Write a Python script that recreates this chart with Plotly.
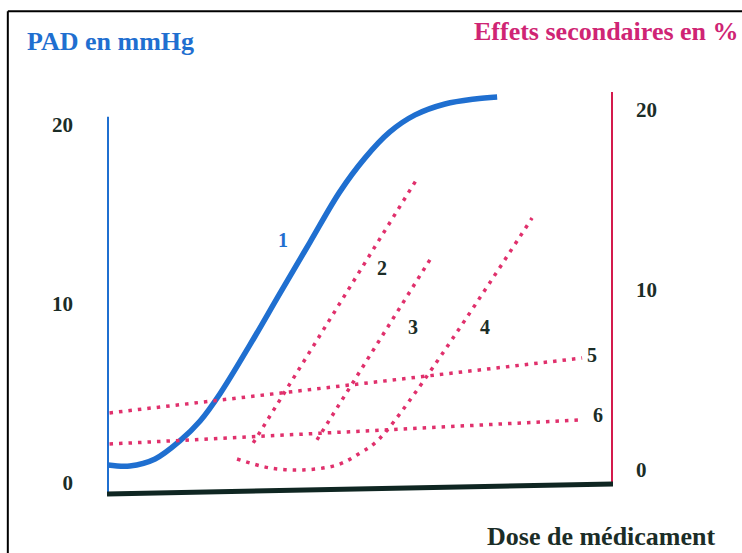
import plotly.graph_objects as go

# courbe 1 : PAD (mmHg) selon la dose
dose_pad = [0.02, 0.45, 0.95, 1.44, 1.84, 2.23, 2.83, 3.42, 4.01, 4.60, 5.10, 5.59, 6.09, 6.68, 7.27, 7.71]
pad = [1.01, 0.95, 1.34, 2.35, 3.46, 4.97, 7.74, 10.61, 13.44, 16.26, 18.16, 19.61, 20.56, 21.17, 21.45, 21.56]

# courbes 2 a 6 : effets secondaires (%)
dose_2 = [2.89, 6.15]
eff_2 = [1.5, 16.28]
dose_3 = [4.15, 6.44]
eff_3 = [1.67, 11.94]
dose_4 = [2.57, 3.22, 3.87, 4.55, 5.0, 5.40, 8.40]
eff_4 = [0.61, 0.11, 0.0, 0.28, 0.94, 1.78, 14.0]
dose_5 = [0.05, 9.39]
eff_5 = [3.17, 6.22]
dose_6 = [0.05, 9.35]
eff_6 = [1.44, 2.78]

left_ticks = [0, 10, 20]
right_ticks = [0, 10, 20]

BLUE = "#1f6fd0"
PINK = "#e0306c"
CRIMSON = "#d41a4c"
DARK = "#1b2d27"
SERIF = "Liberation Serif"

fig = go.Figure()
fig.add_trace(go.Scatter(x=dose_pad, y=pad, mode="lines", line=dict(color=BLUE, width=5.5, shape="spline"),
                         showlegend=False, hoverinfo="skip"))
for xs, ys in [(dose_2, eff_2), (dose_3, eff_3), (dose_4, eff_4), (dose_5, eff_5), (dose_6, eff_6)]:
    fig.add_trace(go.Scatter(x=xs, y=ys, yaxis="y2", mode="lines",
                             line=dict(color=PINK, width=3.5, dash="3.5px,6px", shape="spline"),
                             showlegend=False, hoverinfo="skip"))

# axes dessines a la main (le scan est un peu penche)
fig.add_shape(type="line", xref="x", yref="y", x0=0, x1=0, y0=-0.56, y1=20.45, line=dict(color=BLUE, width=4))
fig.add_shape(type="line", xref="x", yref="y2", x0=10, x1=10, y0=-0.72, y1=21.0, line=dict(color=CRIMSON, width=4))
fig.add_shape(type="line", xref="x", yref="y", x0=0, x1=10, y0=-0.61, y1=-0.06, line=dict(color="#0f2622", width=5))
# cadre
fig.add_shape(type="line", xref="paper", yref="paper", x0=-0.196, x1=1.26, y0=1.178, y1=1.178,
              line=dict(color="black", width=2))
fig.add_shape(type="line", xref="paper", yref="paper", x0=-0.196, x1=-0.196, y0=1.178, y1=-0.14,
              line=dict(color="black", width=2))

lab = dict(family=SERIF, size=20, color=DARK)
fig.add_annotation(x=3.48, y=13.58, yref="y", text="<b>1</b>", showarrow=False,
                   font=dict(family=SERIF, size=20, color=BLUE))
for txt, x, y in [("2", 5.43, 11.22), ("3", 6.05, 7.94), ("4", 7.47, 7.94), ("5", 9.58, 6.39), ("6", 9.70, 3.06)]:
    fig.add_annotation(x=x, y=y, yref="y2", text=f"<b>{txt}</b>", showarrow=False, font=lab)

fig.add_annotation(xref="paper", yref="paper", x=-0.162, y=1.104, xanchor="left", yanchor="middle",
                   text="<b>PAD en mmHg</b>", showarrow=False, font=dict(family=SERIF, size=26, color=BLUE))
fig.add_annotation(xref="paper", yref="paper", x=1.252, y=1.128, xanchor="right", yanchor="middle",
                   text="<b>Effets secondaires en %</b>", showarrow=False,
                   font=dict(family=SERIF, size=26, color="#cf2474"))
fig.add_annotation(xref="paper", yref="paper", x=1.2075, y=-0.089, xanchor="right", yanchor="middle",
                   text="<b>Dose de médicament</b>", showarrow=False, font=dict(family=SERIF, size=26, color=DARK))

fig.update_layout(
    width=742, height=553,
    margin=dict(l=107, r=129, t=85, b=53),
    paper_bgcolor="white", plot_bgcolor="white",
    xaxis=dict(range=[0, 10], showgrid=False, zeroline=False, showline=False, showticklabels=False),
    yaxis=dict(range=[-0.95, 22.23], showgrid=False, zeroline=False, showline=False,
               tickvals=left_ticks, ticktext=[f"<b>{t}</b>" for t in left_ticks],
               tickfont=dict(family=SERIF, size=21, color=DARK), ticklabelstandoff=33),
    yaxis2=dict(range=[-1.67, 21.39], overlaying="y", side="right", showgrid=False, zeroline=False,
                showline=False, tickvals=right_ticks, ticktext=[f"<b>{t}</b>" for t in right_ticks],
                tickfont=dict(family=SERIF, size=21, color=DARK), ticklabelstandoff=22),
)

fig.write_html("out.html", config={"displayModeBar": False},
               post_script="document.body.style.margin='0';")
